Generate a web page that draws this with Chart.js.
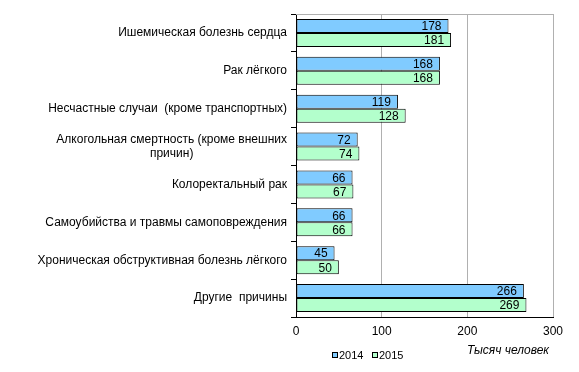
<!DOCTYPE html>
<html>
<head>
<meta charset="utf-8">
<script src="https://cdn.jsdelivr.net/npm/chart.js@4/dist/chart.umd.min.js"></script>
<style>
  html, body { margin: 0; padding: 0; background: #fff; }
  canvas { display: block; }
</style>
</head>
<body>
<canvas id="causesChart" width="579" height="372"></canvas>
<script>
// causes of death, thousand people
const categories = [
  ["Ишемическая болезнь сердца"],
  ["Рак лёгкого"],
  ["Несчастные случаи  (кроме транспортных)"],
  ["Алкогольная смертность (кроме внешних", "причин)"],
  ["Колоректальный рак"],
  ["Самоубийства и травмы самоповреждения"],
  ["Хроническая обструктивная болезнь лёгкого"],
  ["Другие  причины"],
];
const values2014 = [178, 168, 119, 72, 66, 66, 45, 266];
const values2015 = [181, 168, 128, 74, 67, 66, 50, 269];
const seriesNames = ["2014", "2015"];
const xTicks = [0, 100, 200, 300];
const axisTitle = "Тысяч человек";

const blue = "#80CBFF";
const green = "#B3FFCC";
const font = "Liberation Sans, Arial, sans-serif";

// values at the end of each bar, category labels, legend, axis title
const decorPlugin = {
  id: "decor",
  afterDatasetsDraw(chart) {
    const ctx = chart.ctx;
    ctx.save();
    ctx.font = "12px " + font;
    ctx.fillStyle = "#000";
    ctx.textAlign = "right";
    ctx.textBaseline = "middle";
    chart.data.datasets.forEach((ds, i) => {
      chart.getDatasetMeta(i).data.forEach((bar, j) => {
        ctx.fillText(String(ds.data[j]), bar.x - 7, bar.y + 1);
      });
    });
    ctx.restore();
  },
  afterDraw(chart) {
    const ctx = chart.ctx;
    const area = chart.chartArea;
    const yScale = chart.scales.y;
    ctx.save();

    // top border of the plot
    ctx.strokeStyle = "#b0b0b0";
    ctx.lineWidth = 1;
    ctx.beginPath();
    ctx.moveTo(area.left, area.top + 0.5);
    ctx.lineTo(area.right, area.top + 0.5);
    ctx.stroke();

    // category labels
    ctx.font = "12px " + font;
    ctx.fillStyle = "#000";
    ctx.textBaseline = "middle";
    const rightEdge = area.left - 9;
    categories.forEach((lines, i) => {
      const cy = yScale.getPixelForValue(i);
      if (lines.length === 1) {
        ctx.textAlign = "right";
        ctx.fillText(lines[0], rightEdge, cy);
      } else {
        const widest = Math.max(...lines.map((l) => ctx.measureText(l).width));
        const cx = rightEdge - widest / 2;
        const lh = 14;
        ctx.textAlign = "center";
        lines.forEach((l, k) => {
          ctx.fillText(l, cx, cy + (k - (lines.length - 1) / 2) * lh);
        });
      }
    });

    // axis title
    ctx.font = "italic 12px " + font;
    ctx.textAlign = "right";
    ctx.fillText(axisTitle, area.right - 4, 351);

    // legend
    ctx.font = "11px " + font;
    ctx.textAlign = "left";
    const colors = [blue, green];
    const legendX = [332, 372];
    seriesNames.forEach((name, i) => {
      ctx.fillStyle = colors[i];
      ctx.fillRect(legendX[i] + 0.5, 352.5, 5, 5);
      ctx.strokeStyle = "#000";
      ctx.strokeRect(legendX[i] + 0.5, 352.5, 5, 5);
      ctx.fillStyle = "#000";
      ctx.fillText(name, legendX[i] + 7, 356);
    });
    ctx.restore();
  },
};

new Chart(document.getElementById("causesChart"), {
  type: "bar",
  data: {
    labels: categories.map((c) => c.join(" ")),
    datasets: [
      {
        label: seriesNames[0],
        data: values2014,
        backgroundColor: blue,
        borderColor: "#000",
        borderWidth: 1,
        borderSkipped: false,
        categoryPercentage: 0.74,
        barPercentage: 1,
      },
      {
        label: seriesNames[1],
        data: values2015,
        backgroundColor: green,
        borderColor: "#000",
        borderWidth: 1,
        borderSkipped: false,
        categoryPercentage: 0.74,
        barPercentage: 1,
      },
    ],
  },
  options: {
    indexAxis: "y",
    responsive: false,
    animation: false,
    devicePixelRatio: 1,
    layout: { padding: { left: 290, top: 14, right: 26, bottom: 0 } },
    plugins: {
      legend: { display: false },
      tooltip: { enabled: false },
    },
    scales: {
      x: {
        min: xTicks[0],
        max: xTicks[xTicks.length - 1],
        afterBuildTicks: (scale) => {
          scale.ticks = xTicks.map((v) => ({ value: v }));
        },
        afterFit: (scale) => {
          scale.height = 55;
        },
        ticks: {
          color: "#000",
          font: { family: font, size: 12 },
          padding: 7,
        },
        grid: { color: "#b0b0b0", drawTicks: false },
        border: { color: "#000" },
      },
      y: {
        afterFit: (scale) => {
          scale.width = 6;
        },
        ticks: { display: false },
        grid: {
          drawOnChartArea: false,
          drawTicks: true,
          tickLength: 5,
          color: "#000",
          offset: true,
        },
        border: { color: "#000" },
      },
    },
  },
  plugins: [decorPlugin],
});
</script>
</body>
</html>
